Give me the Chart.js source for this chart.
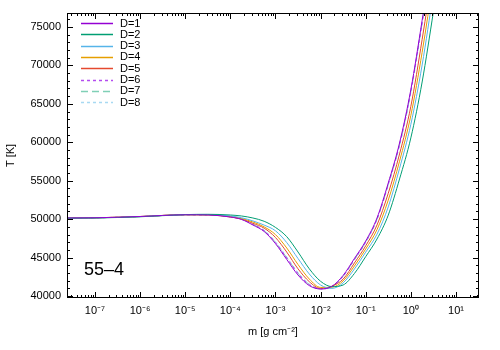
<!DOCTYPE html>
<html>
<head>
<meta charset="utf-8">
<script src="https://cdn.jsdelivr.net/npm/chart.js@4.4.1/dist/chart.umd.min.js"></script>
<style>
  html, body { margin: 0; padding: 0; background: #fff; }
  #wrap { width: 500px; height: 350px; }
</style>
</head>
<body>
<div id="wrap"><canvas id="c" width="500" height="350"></canvas></div>
<script>
// column mass grid [g cm^-2]
const mGrid = [2.4e-8, 1e-7, 1e-6, 1e-5, 3.16e-5, 1e-4, 1.78e-4, 3.16e-4, 5.62e-4, 1e-3, 1.78e-3, 3.16e-3, 5.62e-3, 1e-2, 1.78e-2, 3.16e-2, 5.62e-2, 0.1, 0.178, 0.316, 0.562, 1, 1.78, 3.16, 5.62];

const seriesLabels = ["D=1", "D=2", "D=3", "D=4", "D=5", "D=6", "D=7", "D=8"];

const T_D1 = [50150, 50175, 50344, 50565, 50539, 50279, 49954, 49238, 48392, 46818, 44749, 42733, 41354, 40911, 41262, 42681, 44880, 47156, 50149, 54703, 59907, 66855, 75859, 85409];
const T_D2 = [50123, 50149, 50305, 50591, 50630, 50539, 50409, 50149, 49720, 48926, 47716, 45725, 43539, 41913, 41223, 41432, 42928, 45127, 47417, 50526, 55223, 60571, 67844, 76952, 86320];
const T_D3 = [50140, 50160, 50330, 50580, 50590, 50409, 50175, 49772, 49225, 48484, 46948, 44880, 42863, 41432, 40989, 41705, 43513, 45712, 48041, 51593, 56602, 62327, 70056, 79489, 88922];
const T_D4 = [50145, 50170, 50340, 50575, 50570, 50344, 50084, 49629, 48991, 47989, 46246, 44099, 42212, 41119, 41145, 41965, 43904, 46116, 48640, 52478, 57539, 63498, 71708, 81180];
const T_D5 = [50150, 50175, 50345, 50570, 50555, 50279, 50019, 49459, 48822, 47612, 45712, 43539, 41861, 40989, 41275, 42199, 44294, 46532, 49238, 53363, 58476, 64669, 73374, 82872];
const T_D6 = [50150, 50175, 50340, 50560, 50540, 50290, 49980, 49300, 48480, 46950, 44940, 42920, 41470, 40920, 41210, 42590, 44770, 47040, 50020, 54560, 59730, 66640, 75600, 85100];
const T_D7 = [50145, 50170, 50335, 50560, 50545, 50300, 49990, 49320, 48500, 46980, 44990, 42970, 41500, 40930, 41200, 42560, 44740, 47000, 49980, 54500, 59650, 66550, 75500, 85000];
const T_D8 = [50140, 50165, 50330, 50555, 50550, 50310, 50010, 49360, 48560, 47070, 45080, 43080, 41560, 40950, 41180, 42520, 44690, 46950, 49920, 54420, 59560, 66450, 75400, 84900];

const xMajorTicks = [1e-7, 1e-6, 1e-5, 1e-4, 1e-3, 1e-2, 1e-1, 1e0, 1e1];
const xTickLabels = ["10⁻⁷", "10⁻⁶", "10⁻⁵", "10⁻⁴", "10⁻³", "10⁻²", "10⁻¹", "10⁰", "10¹"];
const yMajorTicks = [40000, 45000, 50000, 55000, 60000, 65000, 70000, 75000];
const panelLabel = "55–4";

const allSeries = [T_D1, T_D2, T_D3, T_D4, T_D5, T_D6, T_D7, T_D8];
const colors = ["#9400d3", "#009e73", "#56b4e9", "#e69f00", "#e5492f", "#b44cf0", "#80d0b6", "#a8d9f2"];
const dashes = [[], [], [], [], [], [3, 3], [7, 4], [3, 3]];

const datasets = allSeries.map((vals, i) => ({
  label: seriesLabels[i],
  data: vals.map((v, j) => ({ x: mGrid[j], y: v })),
  borderColor: colors[i],
  borderWidth: 1,
  borderDash: dashes[i],
  pointRadius: 0,
  fill: false,
  cubicInterpolationMode: 'monotone'
}));

const frame = {
  id: 'frame',
  afterDatasetsDraw(chart) {
    const ctx = chart.ctx, a = chart.chartArea;
    const xs = chart.scales.x, ys = chart.scales.y;
    ctx.save();
    ctx.strokeStyle = '#000';
    ctx.lineWidth = 1;
    ctx.strokeRect(Math.round(a.left) + 0.5, Math.round(a.top) + 0.5, Math.round(a.right - a.left) - 1, Math.round(a.bottom - a.top) - 1);
    ctx.beginPath();
    for (let e = -8; e <= 1; e++) {
      for (let k = 1; k <= 9; k++) {
        const v = k * Math.pow(10, e);
        if (v < xs.min || v > xs.max) continue;
        const px = Math.round(xs.getPixelForValue(v)) + 0.5;
        const len = (k === 1) ? 6 : 3;
        ctx.moveTo(px, a.bottom); ctx.lineTo(px, a.bottom - len);
        ctx.moveTo(px, a.top); ctx.lineTo(px, a.top + len);
      }
    }
    for (let v = 40000; v <= 76000; v += 1000) {
      if (v < ys.min || v > ys.max) continue;
      const py = Math.round(ys.getPixelForValue(v)) + 0.5;
      const len = (v % 5000 === 0) ? 6 : 3;
      ctx.moveTo(a.left, py); ctx.lineTo(a.left + len, py);
      ctx.moveTo(a.right, py); ctx.lineTo(a.right - len, py);
    }
    ctx.stroke();

    ctx.font = '11px "Liberation Sans", Arial, sans-serif';
    ctx.textBaseline = 'middle';
    ctx.textAlign = 'left';
    chart.data.datasets.forEach((ds, i) => {
      const y = a.top + 10 + i * 11.3;
      ctx.beginPath();
      ctx.strokeStyle = ds.borderColor;
      ctx.lineWidth = 1.5;
      ctx.setLineDash(ds.borderDash || []);
      ctx.moveTo(a.left + 14, Math.round(y) + 0.5);
      ctx.lineTo(a.left + 46, Math.round(y) + 0.5);
      ctx.stroke();
      ctx.setLineDash([]);
      ctx.fillStyle = '#000';
      ctx.fillText(ds.label, a.left + 53, y + 0.5);
    });

    ctx.font = '18px "Liberation Sans", Arial, sans-serif';
    ctx.fillStyle = '#000';
    ctx.textBaseline = 'alphabetic';
    ctx.fillText(panelLabel, a.left + 17, a.bottom - 23);
    ctx.restore();
  }
};

new Chart(document.getElementById('c'), {
  type: 'line',
  data: { datasets },
  options: {
    responsive: false,
    animation: false,
    layout: { padding: { top: 13, right: 21, left: 0, bottom: 0 } },
    plugins: { legend: { display: false }, tooltip: { enabled: false } },
    scales: {
      x: {
        type: 'logarithmic',
        min: 2.4e-8,
        max: 32.4,
        afterBuildTicks: (s) => { s.ticks = xMajorTicks.map(v => ({ value: v })); },
        afterFit: (s) => { s.height = 52; },
        ticks: {
          color: '#000',
          font: { family: '"Liberation Sans", Arial, sans-serif', size: 11 },
          padding: 6,
          maxRotation: 0,
          autoSkip: false,
          callback: (v) => { const i = xMajorTicks.indexOf(v); return i >= 0 ? xTickLabels[i] : ''; }
        },
        grid: { display: false, drawTicks: false },
        border: { display: false },
        title: {
          display: true,
          text: 'm [g cm⁻²]',
          color: '#000',
          font: { family: '"Liberation Sans", Arial, sans-serif', size: 11 },
          padding: { top: 0, bottom: 11 }
        }
      },
      y: {
        type: 'linear',
        min: 39740,
        max: 76820,
        afterBuildTicks: (s) => { s.ticks = yMajorTicks.map(v => ({ value: v })); },
        afterFit: (s) => { s.width = 67; },
        ticks: {
          color: '#000',
          font: { family: '"Liberation Sans", Arial, sans-serif', size: 11 },
          padding: 6,
          callback: (v) => String(v)
        },
        grid: { display: false, drawTicks: false },
        border: { display: false },
        title: {
          display: true,
          text: 'T [K]',
          color: '#000',
          font: { family: '"Liberation Sans", Arial, sans-serif', size: 11 },
          padding: 4
        }
      }
    }
  },
  plugins: [frame]
});
</script>
</body>
</html>
